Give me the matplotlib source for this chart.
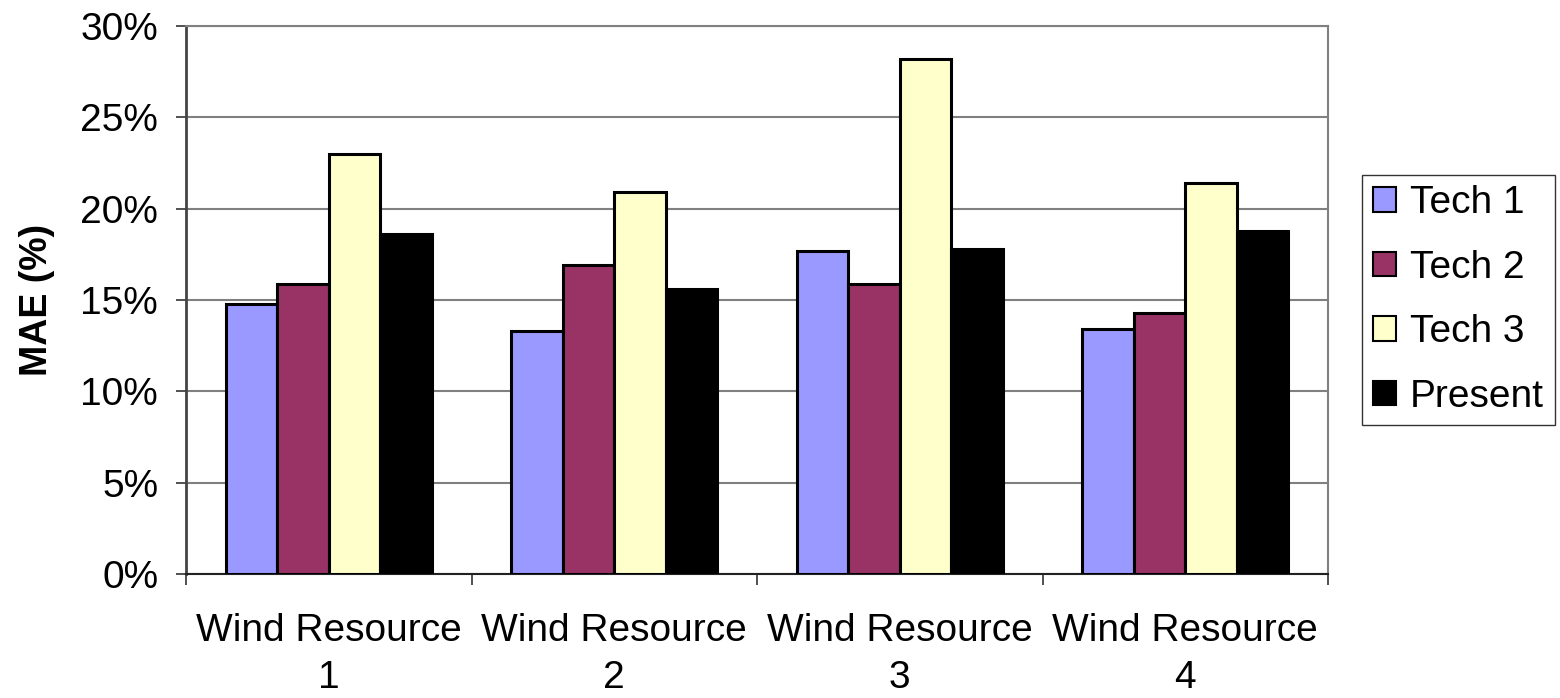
import matplotlib
matplotlib.use("Agg")
import matplotlib.pyplot as plt
import numpy as np
from matplotlib.ticker import PercentFormatter

plt.rcParams['font.family'] = ['Liberation Sans', 'DejaVu Sans']

categories = ["Wind Resource\n1", "Wind Resource\n2", "Wind Resource\n3", "Wind Resource\n4"]
series_names = ["Tech 1", "Tech 2", "Tech 3", "Present"]
tech1 = [14.8, 13.3, 17.7, 13.4]
tech2 = [15.9, 16.9, 15.9, 14.3]
tech3 = [23.0, 20.9, 28.2, 21.4]
present = [18.6, 15.6, 17.8, 18.8]
colors = ["#9999FF", "#993366", "#FFFFCC", "#000000"]

FS = 28

fig = plt.figure(figsize=(15.6, 6.98), dpi=100)
ax = fig.add_axes([186/1560, (698-574)/698, (1328-186)/1560, (574-26)/698])

x = np.arange(len(categories))
width = 0.18
all_series = [tech1, tech2, tech3, present]
handles = []
for i, (vals, col, name) in enumerate(zip(all_series, colors, series_names)):
    b = ax.bar(x + (i - 1.5) * width, vals, width, color=col, edgecolor="black",
               linewidth=2.2, label=name, zorder=3)
    handles.append(b)

ax.set_xlim(-0.5, len(categories) - 0.5)
ax.set_ylim(0, 30)
ax.set_yticks(np.arange(0, 31, 5))
ax.yaxis.set_major_formatter(PercentFormatter(decimals=0))
ax.yaxis.grid(True, color="#808080", linewidth=1.5, zorder=0)
ax.set_axisbelow(True)

# category boundaries carry the x tick marks; labels sit in the middle
ax.set_xticks(np.arange(-0.5, len(categories) + 0.5, 1))
ax.set_xticklabels([])
ax.set_xticks(x, minor=True)
ax.set_xticklabels(categories, minor=True, fontsize=FS, linespacing=1.38)
ax.tick_params(axis="x", which="minor", length=0, pad=28)
ax.tick_params(axis="x", which="major", length=8, width=1.2, color="#333333", direction="out")
ax.tick_params(axis="y", length=7, width=1.2, color="#333333", labelsize=FS, pad=13)

for side in ["top", "right"]:
    ax.spines[side].set_color("#808080")
    ax.spines[side].set_linewidth(1.5)
ax.spines["left"].set_color("#444444")
ax.spines["left"].set_linewidth(2.0)
ax.spines["bottom"].set_color("#222222")
ax.spines["bottom"].set_linewidth(1.5)

ax.set_ylabel("MAE (%)", fontsize=27, fontweight="bold", labelpad=18)

leg = fig.legend(handles=handles, labels=series_names, loc="center left",
                 bbox_to_anchor=(1362/1560, 1 - 300/698), fontsize=FS,
                 frameon=True, fancybox=False, edgecolor="black",
                 handlelength=0.6, handleheight=0.6, handletextpad=0.35,
                 labelspacing=0.73, borderpad=0.28, borderaxespad=0)
leg.get_frame().set_linewidth(1.0)
for p in leg.get_patches():
    p.set_linewidth(1.5)

fig.savefig("out.png", dpi=100)
